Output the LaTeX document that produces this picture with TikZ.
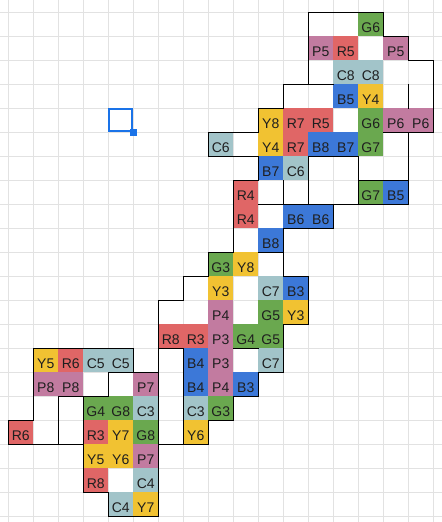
\documentclass[tikz,border=0pt]{standalone}
\usepackage{fontspec}
\setmainfont{Liberation Sans}

\definecolor{cellred}{HTML}{E06666}
\definecolor{cellyellow}{HTML}{F1C232}
\definecolor{cellgreen}{HTML}{6AA84F}
\definecolor{cellcyan}{HTML}{A2C4C9}
\definecolor{cellblue}{HTML}{3C78D8}
\definecolor{cellpurple}{HTML}{C27BA0}
\definecolor{gridgrey}{HTML}{E2E2E2}
\definecolor{selblue}{HTML}{1A73E8}

\newcommand{\SheetW}{17.348}
\newcommand{\SheetH}{21.24}
\newcommand{\cell}[4]{%
	\fill[#3] (#1,#2) rectangle +(1,1);
	\node[celltext] (c#1r#2) at (#1+.5,#2+.833) {#4};}

\begin{document}
\begin{tikzpicture}[x=25pt,y=-24pt,
	gridline/.style={draw=gridgrey,line width=1pt},
	outline/.style={draw=black,line width=1.2pt,line cap=rect},
	celltext/.style={anchor=base,inner sep=0pt,text=black!88,font=\fontsize{14}{16}\selectfont},
	selection/.style={draw=selblue,line width=2pt}]

	%The sheet and its grid
	\useasboundingbox (-.332,-.5125) rectangle (\SheetW,\SheetH);
	\fill[white] (-.332,-.5125) rectangle (\SheetW,\SheetH);
	\foreach \c in {0,...,17} \draw[gridline] (\c,-.5125) -- (\c,\SheetH);
	\foreach \r in {0,...,21} \draw[gridline] (-.332,\r) -- (\SheetW,\r);

	%The coloured cells, row by row
	\cell{14}{0}{cellgreen}{G6}
	\cell{12}{1}{cellpurple}{P5} \cell{13}{1}{cellred}{R5} \cell{15}{1}{cellpurple}{P5}
	\cell{13}{2}{cellcyan}{C8} \cell{14}{2}{cellcyan}{C8}
	\cell{13}{3}{cellblue}{B5} \cell{14}{3}{cellyellow}{Y4}
	\cell{10}{4}{cellyellow}{Y8} \cell{11}{4}{cellred}{R7} \cell{12}{4}{cellred}{R5}
	\cell{14}{4}{cellgreen}{G6} \cell{15}{4}{cellpurple}{P6} \cell{16}{4}{cellpurple}{P6}
	\cell{8}{5}{cellcyan}{C6} \cell{10}{5}{cellyellow}{Y4} \cell{11}{5}{cellred}{R7}
	\cell{12}{5}{cellblue}{B8} \cell{13}{5}{cellblue}{B7} \cell{14}{5}{cellgreen}{G7}
	\cell{10}{6}{cellblue}{B7} \cell{11}{6}{cellcyan}{C6}
	\cell{9}{7}{cellred}{R4} \cell{14}{7}{cellgreen}{G7} \cell{15}{7}{cellblue}{B5}
	\cell{9}{8}{cellred}{R4} \cell{11}{8}{cellblue}{B6} \cell{12}{8}{cellblue}{B6}
	\cell{10}{9}{cellblue}{B8}
	\cell{8}{10}{cellgreen}{G3} \cell{9}{10}{cellyellow}{Y8}
	\cell{8}{11}{cellyellow}{Y3} \cell{10}{11}{cellcyan}{C7} \cell{11}{11}{cellblue}{B3}
	\cell{8}{12}{cellpurple}{P4} \cell{10}{12}{cellgreen}{G5} \cell{11}{12}{cellyellow}{Y3}
	\cell{6}{13}{cellred}{R8} \cell{7}{13}{cellred}{R3} \cell{8}{13}{cellpurple}{P3}
	\cell{9}{13}{cellgreen}{G4} \cell{10}{13}{cellgreen}{G5}
	\cell{1}{14}{cellyellow}{Y5} \cell{2}{14}{cellred}{R6} \cell{3}{14}{cellcyan}{C5}
	\cell{4}{14}{cellcyan}{C5} \cell{7}{14}{cellblue}{B4} \cell{8}{14}{cellpurple}{P3}
	\cell{10}{14}{cellcyan}{C7}
	\cell{1}{15}{cellpurple}{P8} \cell{2}{15}{cellpurple}{P8} \cell{5}{15}{cellpurple}{P7}
	\cell{7}{15}{cellblue}{B4} \cell{8}{15}{cellpurple}{P4} \cell{9}{15}{cellblue}{B3}
	\cell{3}{16}{cellgreen}{G4} \cell{4}{16}{cellgreen}{G8} \cell{5}{16}{cellcyan}{C3}
	\cell{7}{16}{cellcyan}{C3} \cell{8}{16}{cellgreen}{G3}
	\cell{0}{17}{cellred}{R6} \cell{3}{17}{cellred}{R3} \cell{4}{17}{cellyellow}{Y7}
	\cell{5}{17}{cellgreen}{G8} \cell{7}{17}{cellyellow}{Y6}
	\cell{3}{18}{cellyellow}{Y5} \cell{4}{18}{cellyellow}{Y6} \cell{5}{18}{cellpurple}{P7}
	\cell{3}{19}{cellred}{R8} \cell{5}{19}{cellcyan}{C4}
	\cell{4}{20}{cellcyan}{C4} \cell{5}{20}{cellyellow}{Y7}

	%The black borders, top part
	\draw[outline] (12,3) -- (12,0) -- (15,0) -- (15,1) -- (16,1) -- (16,2) -- (17,2) -- (17,5) -- (15,5);
	\draw[outline] (16,3) -- (16,4);
	\draw[outline] (13,3) -- (11,3) -- (11,4) -- (10,4) -- (10,5) -- (8,5) -- (8,6) -- (10,6) -- (10,7)
		-- (9,7) -- (9,10) -- (8,10) -- (8,11) -- (7,11) -- (7,12) -- (6,12) -- (6,18) -- (8,18) -- (8,17);

	%The black borders, middle part
	\draw[outline] (16,5) -- (16,8) -- (10,8);
	\draw[outline] (11,7) -- (11,8);
	\draw[outline] (14,8) -- (14,6) -- (12,6) -- (12,8);
	\draw[outline] (14,7) -- (16,7);
	\draw[outline] (13,8) -- (13,9) -- (11,9) -- (11,11) -- (12,11) -- (12,13) -- (11,13) -- (11,15)
		-- (10,15) -- (10,16) -- (9,16) -- (9,17) -- (8,17);
	\draw[outline] (10,10) -- (11,10);
	\draw[outline] (9,14) -- (10,14);
	\draw[outline] (6,14) -- (7,14) -- (7,18);

	%The black borders, lower left part
	\draw[outline] (1,17) -- (1,14) -- (5,14) -- (5,15) -- (6,15);
	\draw[outline] (4,15) -- (5,15);
	\draw[outline] (4,15) -- (4,16) -- (2,16) -- (2,18);
	\draw[outline] (1,17) -- (0,17) -- (0,18) -- (3,18);
	\draw[outline] (3,16) -- (3,20) -- (4,20) -- (4,21) -- (6,21) -- (6,18);

	%The selected cell
	\draw[selection] (4.04,4.042) rectangle (4.96,4.958);
	\fill[selblue] (4.86,4.855) rectangle (5.14,5.145);

\end{tikzpicture}
\end{document}
